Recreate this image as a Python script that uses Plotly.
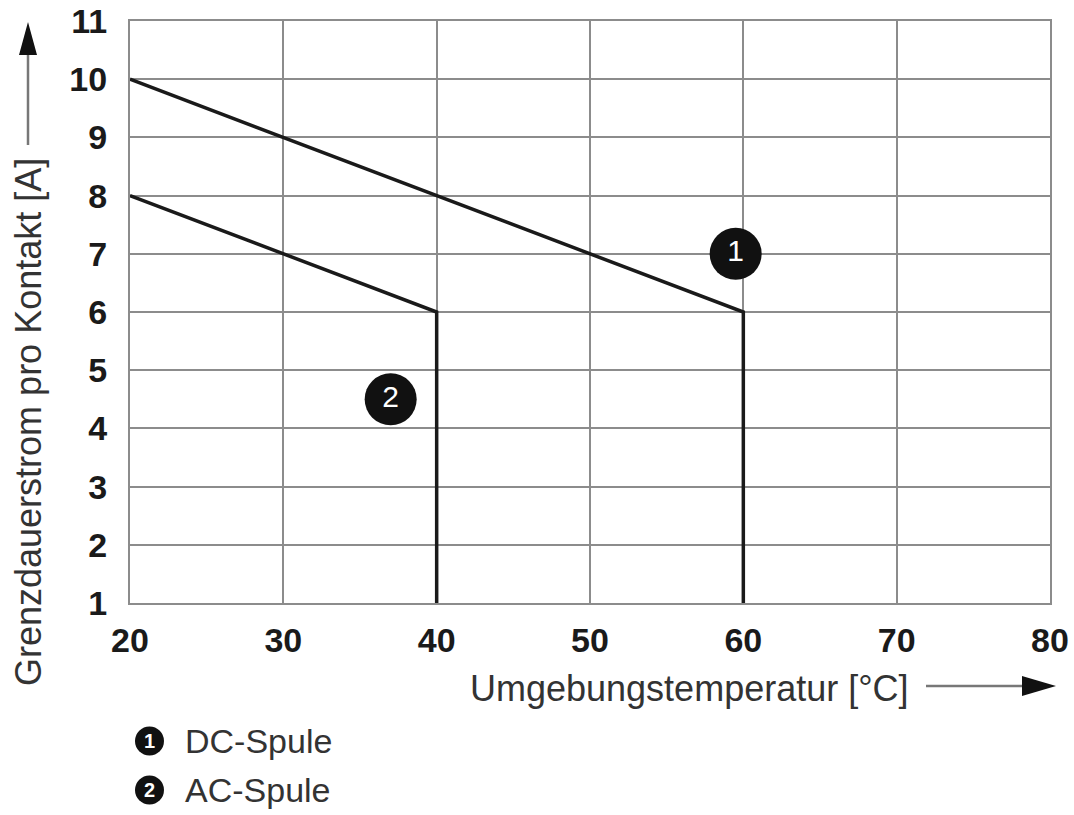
import plotly.graph_objects as go

# ---- data ----
dc_temp = [20, 60, 60]
dc_current = [10, 6, 1]
ac_temp = [20, 40, 40]
ac_current = [8, 6, 1]
label_temp = [59.5, 37]
label_current = [7, 4.5]
label_text = ["1", "2"]
x_ticks = [20, 30, 40, 50, 60, 70, 80]
y_ticks = [1, 2, 3, 4, 5, 6, 7, 8, 9, 10, 11]
legend_names = ["DC-Spule", "AC-Spule"]
x_title = "Umgebungstemperatur [°C]"
y_title = "Grenzdauerstrom pro Kontakt [A]"

# screen geometry (body margin removed in the page)
SW, SH = 1074, 815
PL, PR, PT, PB = 130, 1050, 21, 603          # plot area on screen
W, H = SW, SH
ML, MT = PL, PT
PW, PH = PR - PL, PB - PT
MR = W - ML - PW
MB = H - MT - PH


def px(x):
    return (x - PL) / PW


def py(y):
    return (PB - y) / PH


FONT = "Liberation Sans, Arial, sans-serif"
GRID = "#8c8c8c"

fig = go.Figure()
fig.add_trace(go.Scatter(x=dc_temp, y=dc_current, mode="lines",
                         line=dict(color="#1a1a1a", width=3.5), showlegend=False,
                         hoverinfo="skip"))
fig.add_trace(go.Scatter(x=ac_temp, y=ac_current, mode="lines",
                         line=dict(color="#1a1a1a", width=3.5), showlegend=False,
                         hoverinfo="skip"))
fig.add_trace(go.Scatter(x=label_temp, y=label_current, mode="markers+text",
                         marker=dict(size=52, color="#111111"),
                         text=label_text, textposition="middle center",
                         textfont=dict(family=FONT, size=30, color="white"),
                         showlegend=False, hoverinfo="skip", cliponaxis=False))

axis_common = dict(showgrid=True, gridcolor=GRID, gridwidth=1.6,
                   showline=True, linecolor=GRID, linewidth=2, mirror=True,
                   zeroline=False, ticks="outside", tickcolor="rgba(0,0,0,0)",
                   automargin=False, ticklabeloverflow="allow",
                   tickfont=dict(family=FONT, size=34, color="#1a1a1a", weight="bold"))

fig.update_xaxes(range=[20, 80], tickvals=x_ticks, ticktext=[str(v) for v in x_ticks],
                 ticklen=6, **axis_common)
fig.update_yaxes(range=[1, 11], tickvals=y_ticks, ticktext=[str(v) for v in y_ticks],
                 ticklen=14, **axis_common)

annotations = [
    dict(x=px(689), y=py(688), xref="paper", yref="paper", text=x_title,
         showarrow=False, font=dict(family=FONT, size=36, color="#333333"),
         xanchor="center", yanchor="middle"),
    dict(x=px(28), y=py(422), xref="paper", yref="paper", text=y_title,
         showarrow=False, textangle=-90, font=dict(family=FONT, size=36, color="#333333"),
         xanchor="center", yanchor="middle"),
]

shapes = [
    # x arrow
    dict(type="line", xref="paper", yref="paper", x0=px(926), y0=py(686), x1=px(1026), y1=py(686),
         line=dict(color="#777777", width=2.5)),
    dict(type="path", xref="paper", yref="paper",
         path=f"M {px(1056)},{py(686)} L {px(1022)},{py(676)} L {px(1022)},{py(696)} Z",
         fillcolor="#111111", line=dict(width=0)),
    # y arrow
    dict(type="line", xref="paper", yref="paper", x0=px(28), y0=py(145), x1=px(28), y1=py(52),
         line=dict(color="#777777", width=2.5)),
    dict(type="path", xref="paper", yref="paper",
         path=f"M {px(28)},{py(22)} L {px(19)},{py(55)} L {px(37)},{py(55)} Z",
         fillcolor="#111111", line=dict(width=0)),
]

legend_y = [741, 790]
for i, name in enumerate(legend_names):
    cy = legend_y[i]
    shapes.append(dict(type="circle", xref="paper", yref="paper",
                       x0=px(135), x1=px(164), y0=py(cy - 14.5), y1=py(cy + 14.5),
                       fillcolor="#111111", line=dict(width=0)))
    annotations.append(dict(x=px(149.5), y=py(cy), xref="paper", yref="paper",
                            text=label_text[i], showarrow=False,
                            font=dict(family=FONT, size=20, color="white", weight="bold"),
                            xanchor="center", yanchor="middle"))
    annotations.append(dict(x=px(183), y=py(cy), xref="paper", yref="paper",
                            text=name, showarrow=False,
                            font=dict(family=FONT, size=34, color="#333333"),
                            xanchor="left", yanchor="middle"))

fig.update_layout(width=W, height=H, margin=dict(l=ML, r=MR, t=MT, b=MB, autoexpand=False),
                  paper_bgcolor="white", plot_bgcolor="white", template="none",
                  annotations=annotations, shapes=shapes, showlegend=False)

fig.write_html("out.html", config={"displayModeBar": False},
               post_script="document.body.style.margin='0px';document.body.style.overflow='hidden';")
